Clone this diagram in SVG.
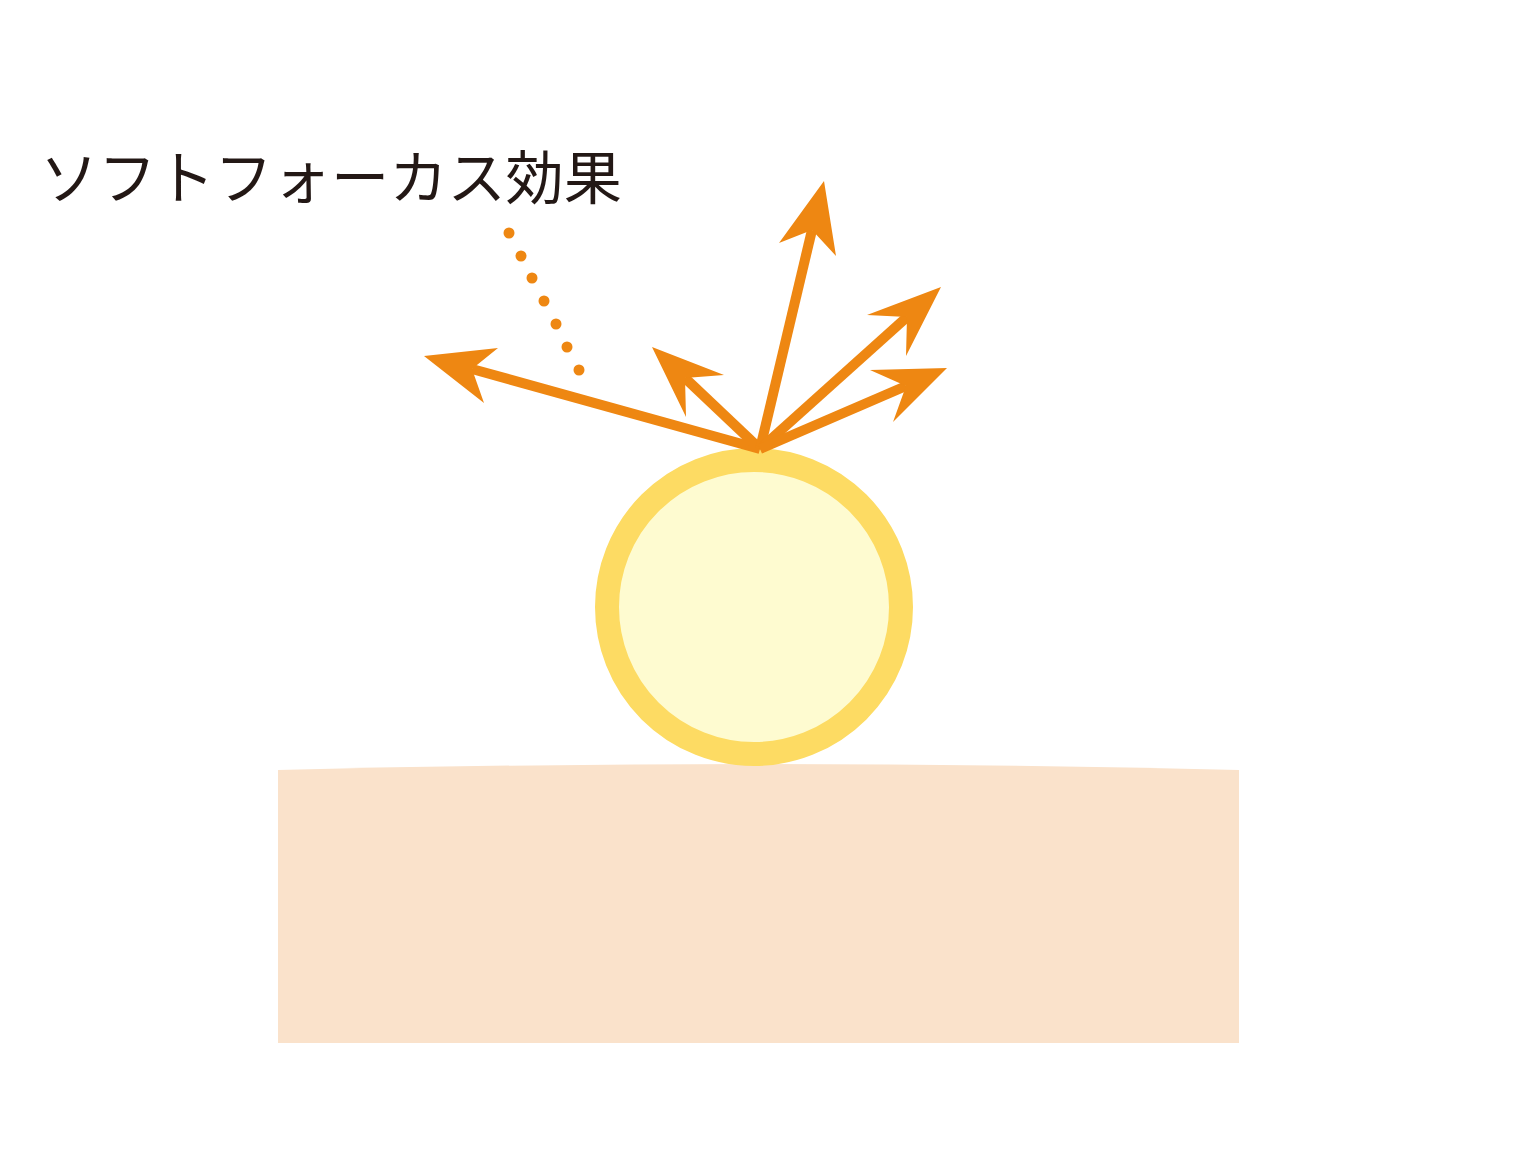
<svg xmlns="http://www.w3.org/2000/svg" width="1526" height="1175" viewBox="0 0 1526 1175">
<style>
.shaft{stroke:#EE8712;stroke-width:10;fill:none;stroke-linecap:butt}
.head{fill:#EE8712}
.dot{fill:#EE8712}
.label{font-family:"Noto Sans CJK JP","Noto Sans",sans-serif;font-size:58px;fill:#231815}
</style>
<rect width="1526" height="1175" fill="#FFFFFF"/>
<g id="surface">
<path d="M278 770 Q758 758 1239 770 L1239 1043 L278 1043 Z" fill="#FAE2CB"/>
</g>
<g id="particle">
<circle cx="754" cy="607" r="147" fill="#FEFBD0" stroke="#FDDB63" stroke-width="24"/>
</g>
<g id="label">
<text class="label" x="40" y="199" textLength="582" lengthAdjust="spacingAndGlyphs">ソフトフォーカス効果</text>
</g>
<g id="leader">
<circle class="dot" cx="509" cy="233" r="5.5"/>
<circle class="dot" cx="521" cy="256" r="5.5"/>
<circle class="dot" cx="532" cy="278" r="5.5"/>
<circle class="dot" cx="544" cy="301" r="5.5"/>
<circle class="dot" cx="556" cy="324" r="5.5"/>
<circle class="dot" cx="567" cy="347" r="5.5"/>
<circle class="dot" cx="579" cy="370" r="5.5"/>
</g>
<g id="connectors">
<line class="shaft" x1="760" y1="449" x2="472" y2="369"/>
<polygon class="head" points="424,356 498,348 472,369 484,403"/>
<line class="shaft" x1="760" y1="449" x2="685" y2="378"/>
<polygon class="head" points="652,347 724,375 685,378 686,417"/>
<line class="shaft" x1="760" y1="449" x2="812" y2="230"/>
<polygon class="head" points="824,181 836,256 812,230 779,243"/>
<line class="shaft" x1="760" y1="449" x2="907" y2="317"/>
<polygon class="head" points="941,287 906,356 907,317 867,315"/>
<line class="shaft" x1="760" y1="449" x2="906" y2="386"/>
<polygon class="head" points="947,368 893,422 906,386 870,370"/>
</g>
</svg>
